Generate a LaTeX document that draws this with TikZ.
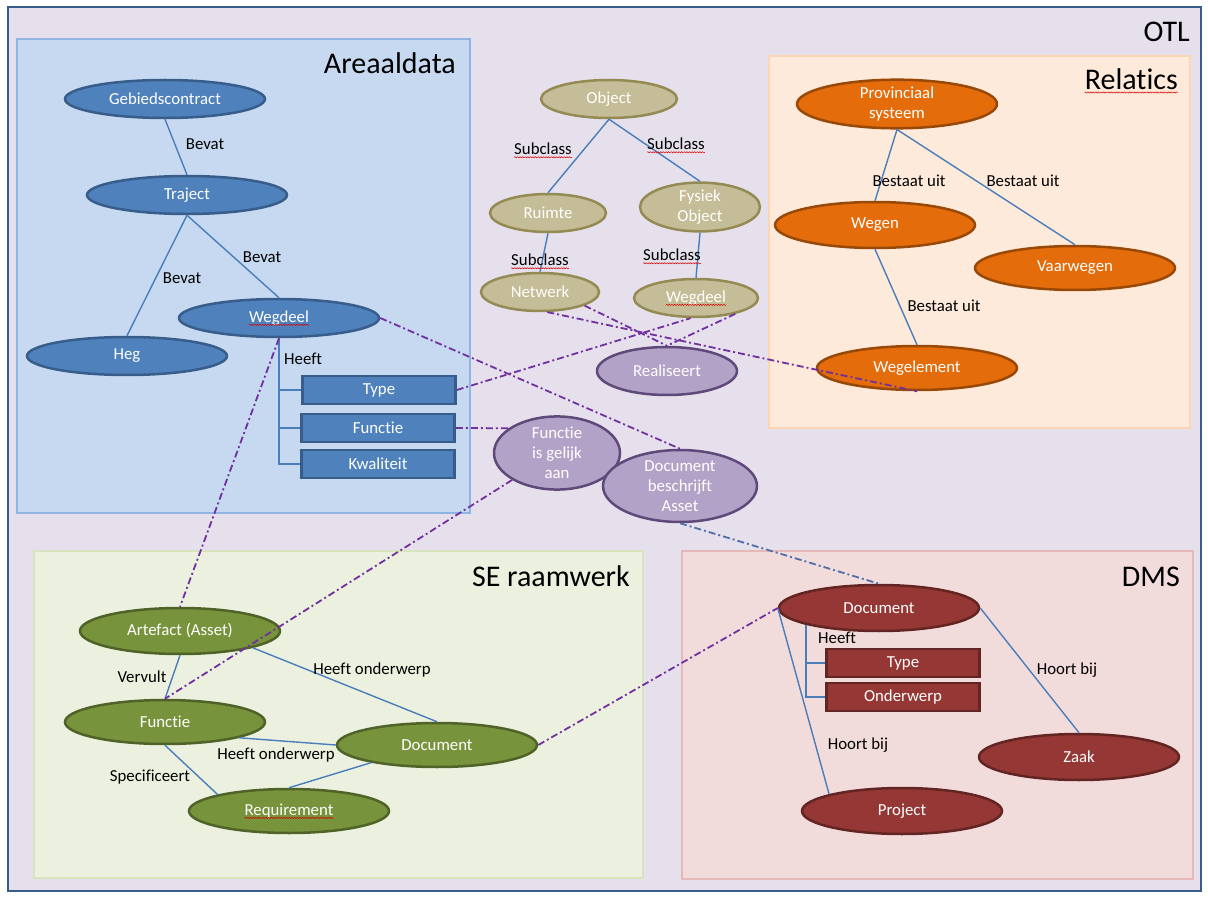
\documentclass[tikz,border=0pt]{standalone}
\usepackage{fontspec}
\setmainfont{Carlito}[Ligatures={NoCommon}]
\usetikzlibrary{shapes.geometric,decorations.pathmorphing}
\definecolor{otlbg}{HTML}{E6E0EC}
\definecolor{otlb}{HTML}{385D8A}
\definecolor{arbg}{HTML}{C6D9F1}
\definecolor{arb}{HTML}{8EB4E3}
\definecolor{rlbg}{HTML}{FDEADA}
\definecolor{rlb}{HTML}{FCD5B5}
\definecolor{sebg}{HTML}{EBF1DE}
\definecolor{seb}{HTML}{D7E4BD}
\definecolor{dmbg}{HTML}{F2DCDB}
\definecolor{dmb}{HTML}{E6B9B8}
\definecolor{nblue}{HTML}{4F81BD}
\definecolor{nblueb}{HTML}{385D8A}
\definecolor{ntan}{HTML}{C4BD97}
\definecolor{ntanb}{HTML}{948A54}
\definecolor{npur}{HTML}{B3A2C7}
\definecolor{npurb}{HTML}{5F497A}
\definecolor{norg}{HTML}{E46C0A}
\definecolor{norgb}{HTML}{984807}
\definecolor{ngrn}{HTML}{77933C}
\definecolor{ngrnb}{HTML}{4F6228}
\definecolor{nred}{HTML}{953735}
\definecolor{nredb}{HTML}{632523}
\definecolor{connc}{HTML}{4A7EBB}
\definecolor{ddc}{HTML}{7030A0}
\definecolor{ddblue}{HTML}{4F6FA8}
\begin{document}
\begin{tikzpicture}[x=1pt,y=-1pt,
  region/.style={line width=2.5pt},
  ell/.style={ellipse, draw, line width=2.5pt, inner sep=0pt, text=white, align=center,
    font=\fontsize{16.8}{20}\selectfont, minimum width=200pt, minimum height=38pt},
  bl/.style={ell, fill=nblue, draw=nblueb},
  tn/.style={ell, fill=ntan, draw=ntanb},
  pu/.style={ell, fill=npur, draw=npurb},
  og/.style={ell, fill=norg, draw=norgb, minimum height=46pt},
  gr/.style={ell, fill=ngrn, draw=ngrnb, minimum height=45pt},
  rd/.style={ell, fill=nred, draw=nredb, minimum height=46pt},
  boxn/.style={rectangle, draw, line width=2.5pt, inner sep=0pt, text=white,
    minimum width=153pt, minimum height=28pt, font=\fontsize{16.8}{20}\selectfont},
  txt/.style={inner sep=0pt, text=white, font=\fontsize{16.8}{20}\selectfont},
  lbl/.style={inner sep=0pt, font=\fontsize{16.8}{20}\selectfont},
  title/.style={inner sep=0pt, anchor=base east, font=\fontsize{30}{34}\selectfont},
  conn/.style={draw=connc, line width=1.4pt},
  dd/.style={draw=ddc, line width=1.8pt, dash pattern=on 7pt off 3pt on 2pt off 3pt},
  squig/.style={draw=red!85!black, line width=0.5pt, decorate,
    decoration={snake, amplitude=0.6pt, segment length=2.6pt}}
]
\useasboundingbox (0,0) rectangle (1208,901);
\fill[white] (0,0) rectangle (1208,901);
% regions
\draw[region, draw=otlb, fill=otlbg] (8,7) rectangle (1201,891);
\draw[region, draw=arb, fill=arbg] (17,39) rectangle (470,513);
\draw[region, draw=rlb, fill=rlbg] (769,56) rectangle (1190,428);
\draw[region, draw=seb, fill=sebg] (34,551) rectangle (643,878);
\draw[region, draw=dmb, fill=dmbg] (682,551) rectangle (1193,879);
% titles
\node[title] (tOTL) at (1190,42) {OTL};
\node[title] (tAR) at (456,74) {Areaaldata};
\node[title] (tRL) at (1178,90) {Relatics};
\node[title] (tSE) at (630,586) {SE raamwerk};
\node[title] (tDM) at (1180,586) {DMS};

% ---------- Areaaldata ----------
\node[bl] (gc) at (165,99) {Gebiedscontract};
\node[bl] (tr) at (187,195) {Traject};
\node[bl] (aw) at (279,318) {};
\node[txt] (awt) at (279,318) {Wegdeel};
\node[bl] (heg) at (127,356) {Heg};
\node[boxn, fill=nblue, draw=nblueb] (ty) at (379,390) {Type};
\node[boxn, fill=nblue, draw=nblueb] (fu) at (378,428) {Functie};
\node[boxn, fill=nblue, draw=nblueb] (kw) at (378,464) {Kwaliteit};
\draw[conn] (gc.south) -- (tr.north);
\draw[conn] (tr.south) -- (heg.north);
\draw[conn] (tr.south) -- (aw.north);
\draw[conn] (aw.south) |- (kw.west);
\draw[conn] (aw.south |- ty.west) -- (ty.west);
\draw[conn] (aw.south |- fu.west) -- (fu.west);
\node[lbl] (lb1) at (205,144) {Bevat};
\node[lbl] (lb2) at (182,278) {Bevat};
\node[lbl] (lb3) at (262,257) {Bevat};
\node[lbl, anchor=west] (lb4) at (284,359) {Heeft};

% ---------- OTL middle ----------
\node[tn, minimum width=136pt] (ob) at (609,99) {Object};
\node[tn, minimum width=116pt] (ru) at (548,213) {Ruimte};
\node[tn, minimum width=120pt] (fy) at (700,207) {Fysiek\\Object};
\node[tn, minimum width=118pt] (nw) at (540,292) {Netwerk};
\node[tn, minimum width=124pt] (ow) at (696,298) {};
\node[txt] (owt) at (696,298) {Wegdeel};
\draw[conn] (ob.south) -- (ru.north);
\draw[conn] (ob.south) -- (fy.north);
\draw[conn] (ru.south) -- (nw.north);
\draw[conn] (fy.south) -- (ow.north);
\node[lbl] (sc1) at (543,149) {Subclass};
\node[lbl] (sc2) at (676,144) {Subclass};
\node[lbl] (sc3) at (540,260) {Subclass};
\node[lbl] (sc4) at (672,255) {Subclass};

\node[pu, minimum width=140pt, minimum height=48pt] (re) at (667,371) {Realiseert};
\node[pu, minimum width=126pt, minimum height=66pt] (fig) at (557,453) {Functie\\is gelijk\\aan};
\node[pu, minimum width=154pt, minimum height=62pt] (dba) at (680,486) {Document\\beschrijft\\Asset};

% ---------- Relatics ----------
\node[og] (pv) at (897,104) {Provinciaal\\systeem};
\node[og] (wg) at (875,225) {Wegen};
\node[og, minimum height=44pt] (vw) at (1075,268) {Vaarwegen};
\node[og, minimum height=44pt] (wel) at (917,368) {Wegelement};
\draw[conn] (pv.south) -- (wg.north);
\draw[conn] (pv.south) -- (vw.north);
\draw[conn] (wg.south) -- (wel.north);
\node[lbl] (bu1) at (909,181) {Bestaat uit};
\node[lbl] (bu2) at (1023,181) {Bestaat uit};
\node[lbl] (bu3) at (944,306) {Bestaat uit};

% ---------- SE raamwerk ----------
\node[gr, minimum height=46pt] (art) at (180,631) {Artefact (Asset)};
\node[gr, minimum height=44pt] (sfu) at (165,722) {Functie};
\node[gr, minimum height=44pt] (sdoc) at (437,745) {Document};
\node[gr, minimum height=44pt] (req) at (289,811) {};
\node[txt] (reqt) at (289,811) {Requirement};
\draw[conn] (art.south) -- (sfu.north);
\draw[conn] (art.-13) -- (sdoc.north);
\draw[conn] (sfu.-12) -- (sdoc.west);
\draw[conn] (sdoc.-165) -- (req.north);
\draw[conn] (sfu.south) -- (req.167);
\node[lbl] (vv) at (142,677) {Vervult};
\node[lbl] (ho1) at (372,670) {Heeft onderwerp};
\node[lbl] (ho2) at (276,755) {Heeft onderwerp};
\node[lbl] (spc) at (150,777) {Specificeert};

% ---------- DMS ----------
\node[rd] (ddoc) at (879,608) {Document};
\node[boxn, fill=nred, draw=nredb] (dty) at (903,663) {Type};
\node[boxn, fill=nred, draw=nredb] (don) at (903,697) {Onderwerp};
\node[rd] (zk) at (1079,757) {Zaak};
\node[rd] (pj) at (902,811) {Project};
\draw[conn] (ddoc.-167) |- (don.west);
\draw[conn] (ddoc.-167 |- dty.west) -- (dty.west);
\draw[conn] (ddoc.west) -- (pj.167);
\draw[conn] (ddoc.east) -- (zk.north);
\node[lbl, anchor=west] (dh) at (818,638) {Heeft};
\node[lbl] (hb1) at (1067,670) {Hoort bij};
\node[lbl] (hb2) at (858,745) {Hoort bij};

% ---------- cross-system dash-dot links ----------
\draw[dd] (aw.east) -- (dba.north);
\draw[dd] (ty.east) -- (ow.-105);
\draw[dd] (fu.east) -- (fig.153);
\draw[dd] (aw.south) -- (art.north);
\draw[dd] (fig.211) -- (sfu.north);
\draw[dd] (nw.-70) -- (wel.south);
\draw[dd] (nw.-17) -- (re.north);
\draw[dd] (ow.-22) -- (re.north);
\draw[dd, draw=ddblue] (dba.south) -- (ddoc.north);
\draw[dd] (sdoc.east) -- (ddoc.west);

% ---------- spell-check underlines ----------
\foreach \n in {sc1,sc2,sc3,sc4,awt,owt,reqt,tRL}{
  \draw[squig] ([yshift=-2.5pt]\n.base west) -- ([yshift=-2.5pt]\n.base east);
}
\end{tikzpicture}
\end{document}
